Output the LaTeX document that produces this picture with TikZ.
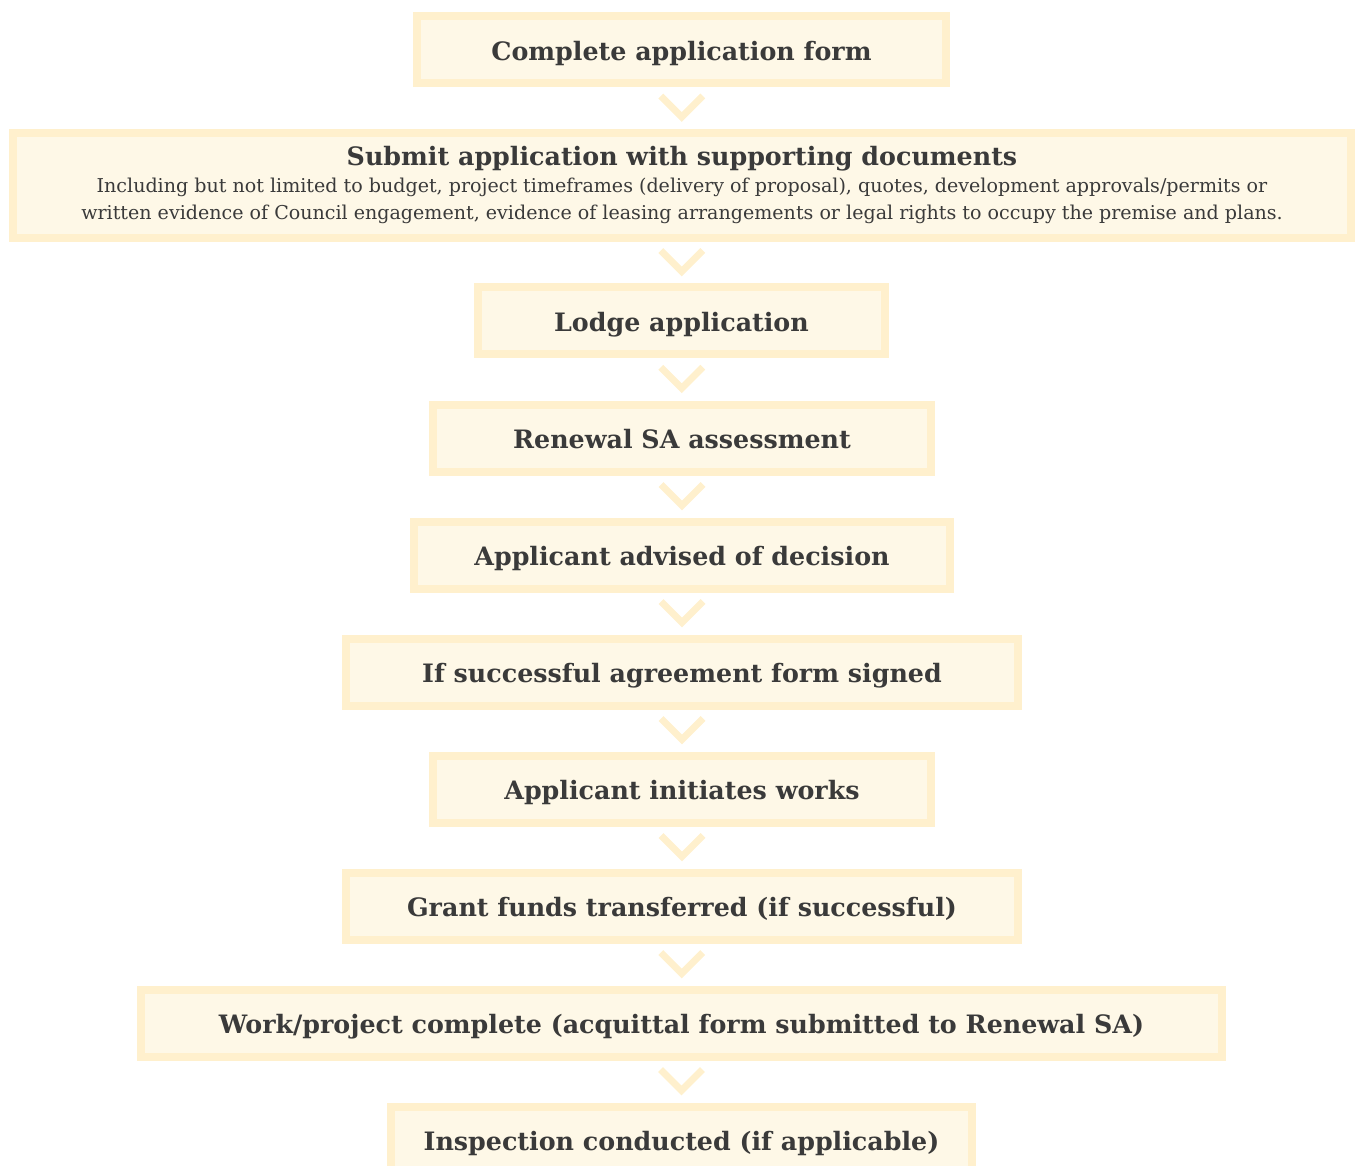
\documentclass[tikz,border=0pt]{standalone}
\usepackage{fontspec}
\setmainfont{DejaVu Serif}
\usetikzlibrary{calc}
\definecolor{boxborder}{HTML}{FFF0CD}
\definecolor{boxfill}{HTML}{FEF8E7}
\definecolor{txt}{HTML}{3A3A3A}
\tikzset{
  stepbox/.style={draw=boxborder, fill=boxfill, line width=6pt, inner sep=0pt,
    text=txt, font=\bfseries\fontsize{19pt}{22pt}\selectfont,
    text height=16.1pt, text depth=0pt},
  bw/.style={minimum width={(#1-8)*0.75pt}},
  bh/.style={minimum height={(#1-8)*0.75pt}},
  titletext/.style={text=txt, inner sep=0pt, font=\bfseries\fontsize{19pt}{22pt}\selectfont},
  smalltext/.style={text=txt, inner sep=0pt, font=\fontsize{14.3pt}{17pt}\selectfont},
  chev/.style={draw=boxborder, line width=5.25pt},
}
\begin{document}
\begin{tikzpicture}[x=0.75pt,y=-0.75pt]
\useasboundingbox (0,0) rectangle (1355,1166);
\clip (0,0) rectangle (1355,1166);
\node[stepbox, bw=537, bh=75] (b1) at (681.5,49.5) {Complete application form};
\node[stepbox, bw=1346, bh=113] (b2) at (682,185.5) {};
\node[titletext, anchor=base] (t2a) at ($(b2.center)+(0,-19.5)$) {Submit application with supporting documents};
\node[smalltext, anchor=base] (t2b) at ($(b2.center)+(0,7)$) {Including but not limited to budget, project timeframes (delivery of proposal), quotes, development approvals/permits or};
\node[smalltext, anchor=base] (t2c) at ($(b2.center)+(0,34.5)$) {written evidence of Council engagement, evidence of leasing arrangements or legal rights to occupy the premise and plans.};
\node[stepbox, bw=415, bh=75] (b3) at (681.5,320.5) {Lodge application};
\node[stepbox, bw=506, bh=75] (b4) at (682,438) {Renewal SA assessment};
\node[stepbox, bw=544, bh=75] (b5) at (682,555) {Applicant advised of decision};
\node[stepbox, bw=680, bh=75] (b6) at (682,672) {If successful agreement form signed};
\node[stepbox, bw=506, bh=75] (b7) at (682,789) {Applicant initiates works};
\node[stepbox, bw=680, bh=75] (b8) at (682,906) {Grant funds transferred (if successful)};
\node[stepbox, bw=1089, bh=75] (b9) at (681.5,1023) {Work/project complete (acquittal form submitted to Renewal SA)};
\node[stepbox, bw=589, bh=75] (b10) at (681.5,1140) {Inspection conducted (if applicable)};
\foreach \a/\b in {b1/b2,b2/b3,b3/b4,b4/b5,b5/b6,b6/b7,b7/b8,b8/b9,b9/b10}{
  \coordinate (m\a) at ($(\a.south)!0.5!(\b.north)$);
  \draw[chev] ($(m\a)+(-21,-12)$) -- ($(m\a)+(0,9)$) -- ($(m\a)+(21,-12)$);
}
\end{tikzpicture}
\end{document}
